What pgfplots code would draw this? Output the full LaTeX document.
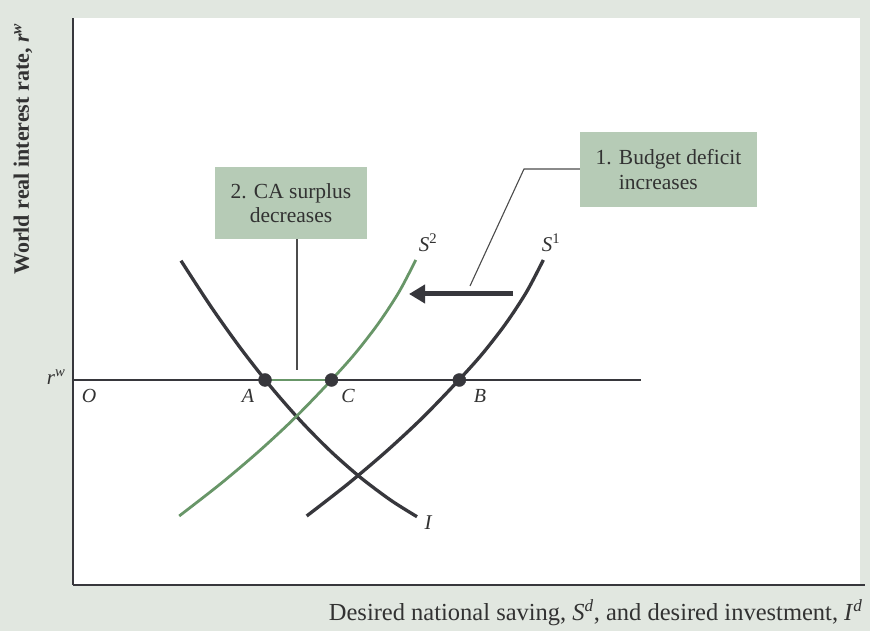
\documentclass[border=0pt]{standalone}
\usepackage{fontspec}
\setmainfont{Liberation Serif}
\usepackage{pgfplots}
\pgfplotsset{compat=1.18}
\usetikzlibrary{arrows.meta}
\definecolor{bg}{RGB}{225,231,224}
\definecolor{boxfill}{RGB}{182,203,182}
\definecolor{sgreen}{RGB}{104,150,104}
\definecolor{dark}{RGB}{55,55,60}
\definecolor{txt}{RGB}{50,50,50}
\begin{document}
\begin{tikzpicture}[x=1pt,y=1pt]
\fill[bg] (0,0) rectangle (870,631);
\fill[white] (73,46) rectangle (860,613);
\begin{axis}[
  at={(73pt,46pt)}, anchor=south west,
  scale only axis, width=792pt, height=567pt,
  xmin=73, xmax=865, ymin=46, ymax=613,
  axis lines*=left, axis line style={dark, line width=1.6pt},
  ticks=none, clip=false,
]
% world interest rate line
\addplot[dark, line width=2.4pt] coordinates {(73,251) (641,251)};
\addplot[sgreen, line width=2.2pt] coordinates {(265,251) (331.5,251)};
\addplot[dark, line width=1.6pt, dash pattern=on 1.6pt off 7pt] coordinates {(340,251) (455,251)};
% I curve
\addplot[dark, line width=3.3pt, smooth] coordinates {
 (181,370.3) (211,324.3) (241,282.2) (271,244.0) (301,209.7) (331,179.4) (361,153.1) (391,130.6) (417,114.3)};
% S2 curve
\addplot[sgreen, line width=2.8pt, smooth] coordinates {
 (415.8,371) (399,339) (378,307) (353,275) (323.9,243) (292.7,211) (258.1,179) (220.3,147) (179.2,115)};
% S1 curve
\addplot[dark, line width=3.3pt, smooth] coordinates {
 (543.3,371) (526.5,339) (505.5,307) (480.5,275) (451.4,243) (420.2,211) (385.6,179) (347.8,147) (306.7,115)};
% equilibrium points
\addplot[only marks, mark=*, mark size=6.5pt, dark] coordinates {(265,251) (331.5,251) (459.3,251)};
% shift arrow
\addplot[dark, line width=5pt, -{Triangle[length=16pt,width=18pt]}] coordinates {(513,337) (409,337)};
% callout lines
\addplot[gray!60!black, line width=1.1pt] coordinates {(580,462) (524,462) (470,345)};
\addplot[gray!60!black, line width=1.1pt] coordinates {(297,392) (297,261)};
% boxes
\fill[boxfill] (axis cs:580,424) rectangle (axis cs:757,499);
\fill[boxfill] (axis cs:215,392) rectangle (axis cs:367,464);
\node[txt, align=left, font=\fontsize{21.5}{25}\selectfont] at (axis cs:668.5,461.5)
  {1. Budget deficit\\\phantom{1. }increases};
\node[txt, align=center, font=\fontsize{21.5}{24}\selectfont] at (axis cs:291,428)
  {2. CA surplus\\decreases};
% point labels
\node[txt, font=\fontsize{20}{22}\selectfont\itshape] at (axis cs:89,235) {O};
\node[txt, font=\fontsize{20}{22}\selectfont\itshape] at (axis cs:248,235) {A};
\node[txt, font=\fontsize{20}{22}\selectfont\itshape] at (axis cs:348,235) {C};
\node[txt, font=\fontsize{20}{22}\selectfont\itshape] at (axis cs:480,235) {B};
\node[txt, font=\fontsize{21}{22}\selectfont, anchor=east] at (axis cs:69,254) {\textit{r}\textsuperscript{\textit{w}}};
\node[txt, font=\fontsize{21}{22}\selectfont] at (axis cs:428,388) {\textit{S}\textsuperscript{2}};
\node[txt, font=\fontsize{21}{22}\selectfont] at (axis cs:551,388) {\textit{S}\textsuperscript{1}};
\node[txt, font=\fontsize{21}{22}\selectfont\itshape] at (axis cs:428,108) {I};
% axis titles
\node[txt, font=\fontsize{22}{24}\selectfont\bfseries, rotate=90] at (axis cs:23,482)
  {World real interest rate, \textit{r}\textsuperscript{\textit{w}}};
\node[txt, font=\fontsize{24.5}{26}\selectfont, anchor=base east] at (axis cs:866,10)
  {Desired national saving, \textit{S}\textsuperscript{\textit{d}}, and desired investment, \textit{I}\textsuperscript{\textit{d}}};
\end{axis}
\end{tikzpicture}
\end{document}
